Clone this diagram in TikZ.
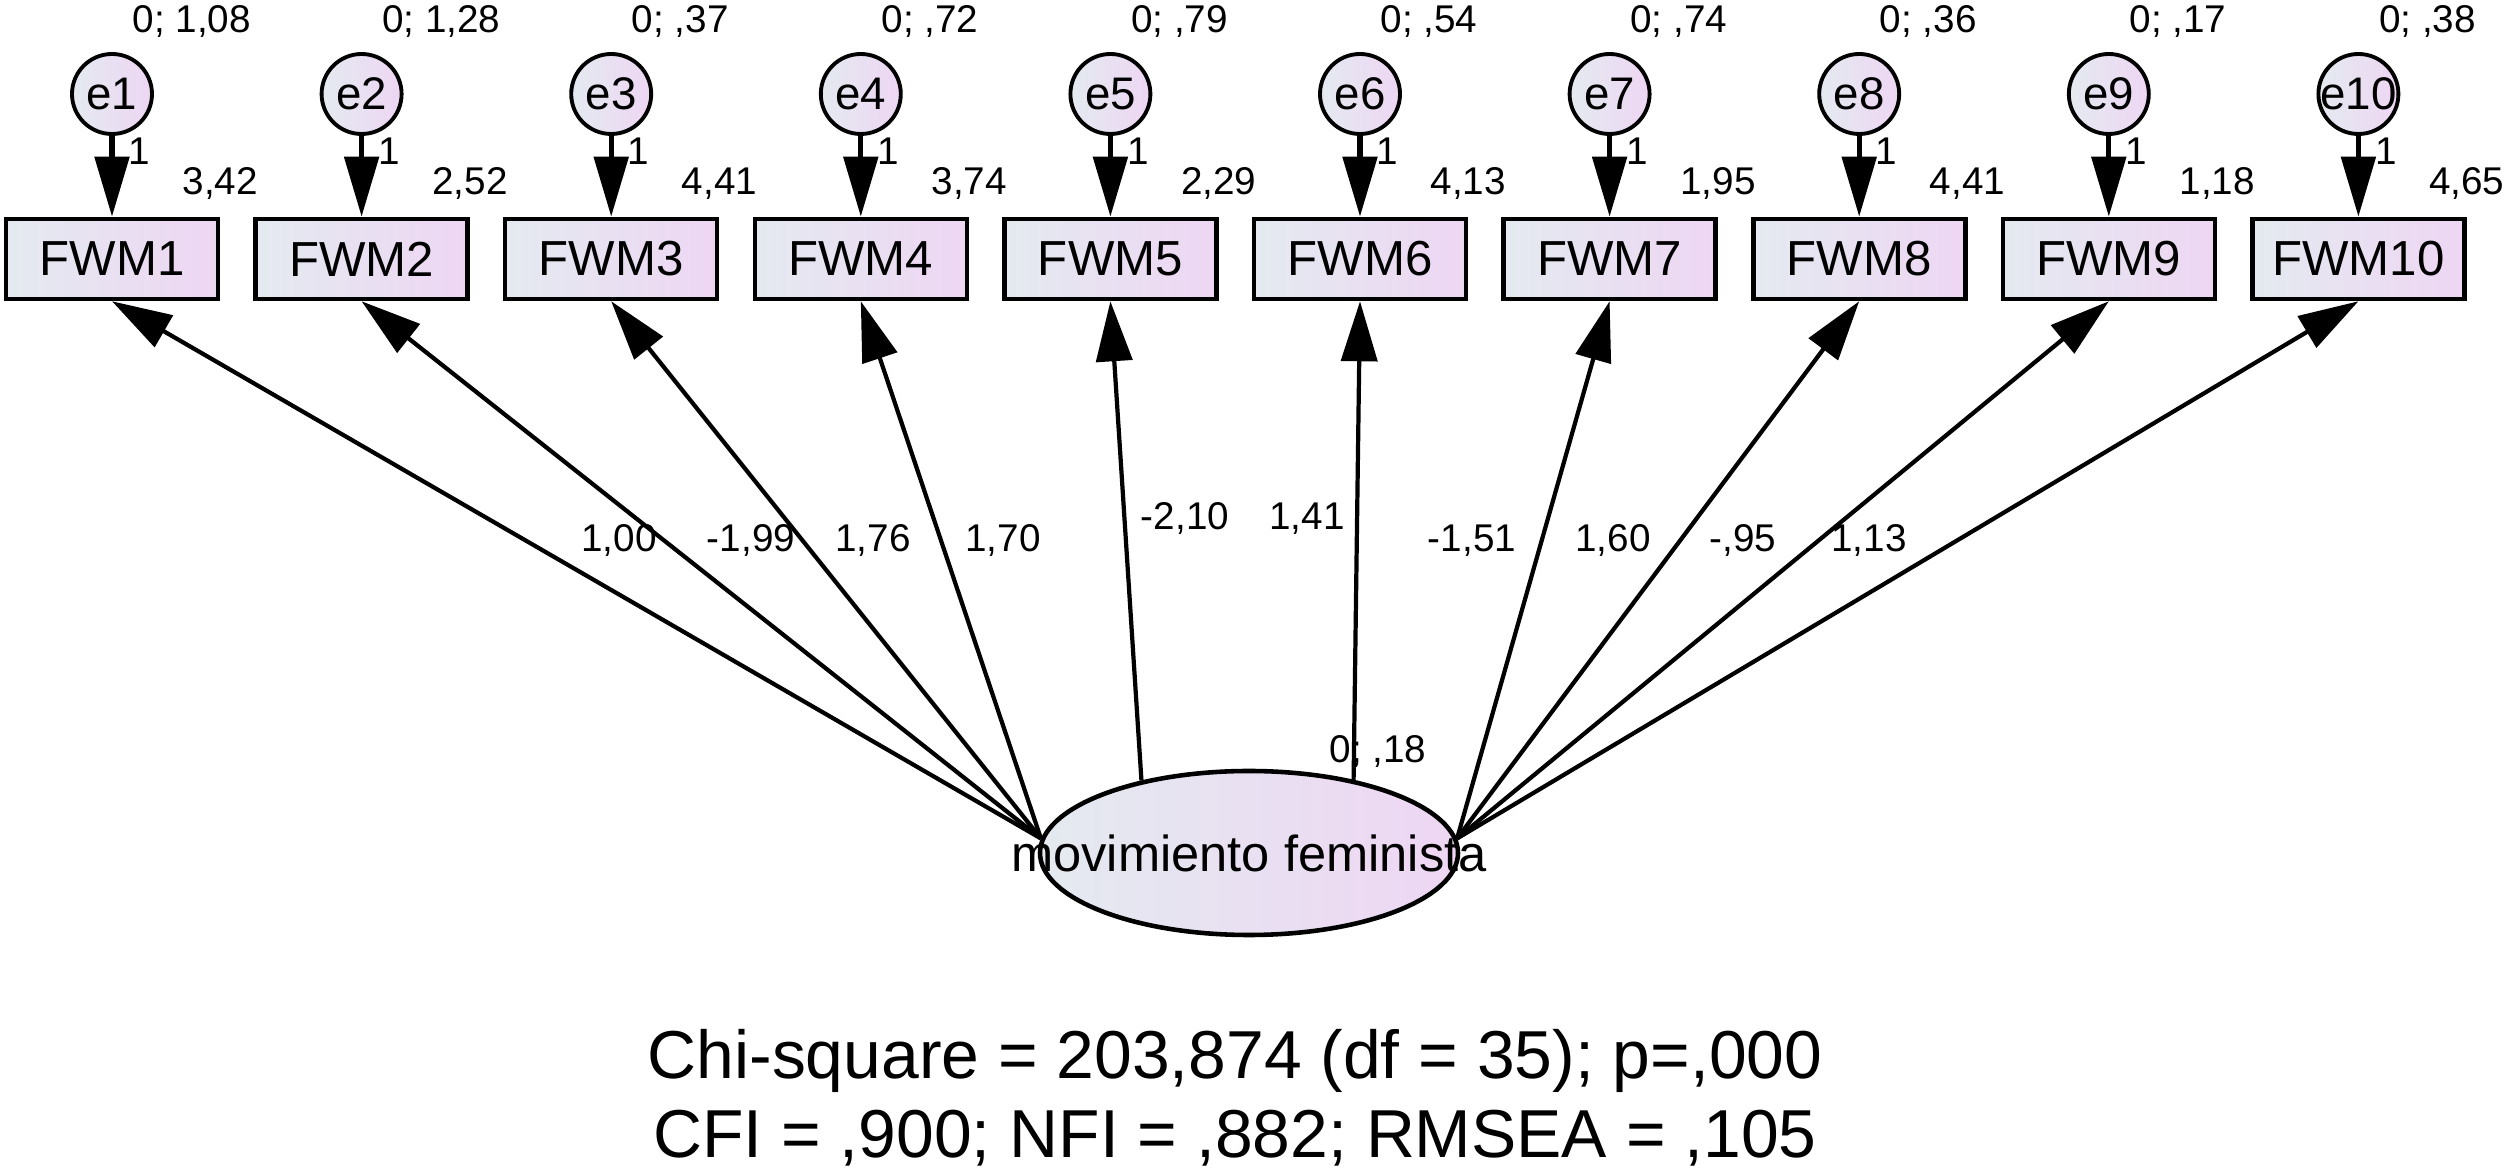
\documentclass[tikz,border=0pt]{standalone}
\usepackage{fontspec}
\setmainfont{Liberation Sans}
\usetikzlibrary{arrows.meta,shapes.geometric}
\definecolor{shadeL}{RGB}{228,234,240}
\definecolor{shadeR}{RGB}{238,214,243}
\tikzstyle{obs}=[draw, line width=1.3pt, left color=shadeL, right color=shadeR, minimum width=2.12cm, minimum height=0.8cm, inner sep=0pt, font=\fontsize{14pt}{16pt}\selectfont]
\tikzstyle{err}=[circle, draw, line width=1.1pt, left color=shadeL, right color=shadeR, minimum size=0.8cm, inner sep=-0.04cm, font=\fontsize{13pt}{15pt}\selectfont]
\tikzstyle{lat}=[ellipse, draw, line width=1.3pt, left color=shadeL, right color=shadeR, minimum width=4.18cm, minimum height=1.64cm, inner sep=0pt]
\tikzstyle{num}=[font=\fontsize{11pt}{13pt}\selectfont, inner sep=0pt]
\tikzstyle{loading}=[line width=1.2pt, -{Triangle[length=0.6cm, width=0.36cm]}]
\tikzstyle{fixed}=[line width=1.5pt, -{Triangle[length=0.6cm, width=0.34cm]}]
\tikzstyle{fitstat}=[font=\fontsize{19.3pt}{22pt}\selectfont, inner sep=0pt, anchor=base]

\begin{document}
\begin{tikzpicture}
	\useasboundingbox (0,0) rectangle (25.08,-11.73);
	\node[obs] (FWM1) at (1.12,-2.59) {FWM1};
	\node[obs] (FWM2) at (3.616,-2.59) {FWM2};
	\node[obs] (FWM3) at (6.112,-2.59) {FWM3};
	\node[obs] (FWM4) at (8.608,-2.59) {FWM4};
	\node[obs] (FWM5) at (11.104,-2.59) {FWM5};
	\node[obs] (FWM6) at (13.6,-2.59) {FWM6};
	\node[obs] (FWM7) at (16.096,-2.59) {FWM7};
	\node[obs] (FWM8) at (18.592,-2.59) {FWM8};
	\node[obs] (FWM9) at (21.088,-2.59) {FWM9};
	\node[obs] (FWM10) at (23.584,-2.59) {FWM10};
	\node[err] (e1) at (1.12,-0.94) {e1};
	\node[err] (e2) at (3.616,-0.94) {e2};
	\node[err] (e3) at (6.112,-0.94) {e3};
	\node[err] (e4) at (8.608,-0.94) {e4};
	\node[err] (e5) at (11.104,-0.94) {e5};
	\node[err] (e6) at (13.6,-0.94) {e6};
	\node[err] (e7) at (16.096,-0.94) {e7};
	\node[err] (e8) at (18.592,-0.94) {e8};
	\node[err] (e9) at (21.088,-0.94) {e9};
	\node[err] (e10) at (23.584,-0.94) {e10};
	\node[num, anchor=base west] (v1) at ([shift={(0.2,0.61)}] e1) {0; 1,08};
	\node[num, anchor=base west] (v2) at ([shift={(0.2,0.61)}] e2) {0; 1,28};
	\node[num, anchor=base west] (v3) at ([shift={(0.2,0.61)}] e3) {0; ,37};
	\node[num, anchor=base west] (v4) at ([shift={(0.2,0.61)}] e4) {0; ,72};
	\node[num, anchor=base west] (v5) at ([shift={(0.2,0.61)}] e5) {0; ,79};
	\node[num, anchor=base west] (v6) at ([shift={(0.2,0.61)}] e6) {0; ,54};
	\node[num, anchor=base west] (v7) at ([shift={(0.2,0.61)}] e7) {0; ,74};
	\node[num, anchor=base west] (v8) at ([shift={(0.2,0.61)}] e8) {0; ,36};
	\node[num, anchor=base west] (v9) at ([shift={(0.2,0.61)}] e9) {0; ,17};
	\node[num, anchor=base west] (v10) at ([shift={(0.2,0.61)}] e10) {0; ,38};
	\node[num, anchor=base west] (w1) at ([shift={(0.16,-0.71)}] e1) {1};
	\node[num, anchor=base west] (w2) at ([shift={(0.16,-0.71)}] e2) {1};
	\node[num, anchor=base west] (w3) at ([shift={(0.16,-0.71)}] e3) {1};
	\node[num, anchor=base west] (w4) at ([shift={(0.16,-0.71)}] e4) {1};
	\node[num, anchor=base west] (w5) at ([shift={(0.16,-0.71)}] e5) {1};
	\node[num, anchor=base west] (w6) at ([shift={(0.16,-0.71)}] e6) {1};
	\node[num, anchor=base west] (w7) at ([shift={(0.16,-0.71)}] e7) {1};
	\node[num, anchor=base west] (w8) at ([shift={(0.16,-0.71)}] e8) {1};
	\node[num, anchor=base west] (w9) at ([shift={(0.16,-0.71)}] e9) {1};
	\node[num, anchor=base west] (w10) at ([shift={(0.16,-0.71)}] e10) {1};
	\node[num, anchor=base west] (i1) at ([shift={(0.7,0.64)}] FWM1) {3,42};
	\node[num, anchor=base west] (i2) at ([shift={(0.7,0.64)}] FWM2) {2,52};
	\node[num, anchor=base west] (i3) at ([shift={(0.7,0.64)}] FWM3) {4,41};
	\node[num, anchor=base west] (i4) at ([shift={(0.7,0.64)}] FWM4) {3,74};
	\node[num, anchor=base west] (i5) at ([shift={(0.7,0.64)}] FWM5) {2,29};
	\node[num, anchor=base west] (i6) at ([shift={(0.7,0.64)}] FWM6) {4,13};
	\node[num, anchor=base west] (i7) at ([shift={(0.7,0.64)}] FWM7) {1,95};
	\node[num, anchor=base west] (i8) at ([shift={(0.7,0.64)}] FWM8) {4,41};
	\node[num, anchor=base west] (i9) at ([shift={(0.7,0.64)}] FWM9) {1,18};
	\node[num, anchor=base west] (i10) at ([shift={(0.7,0.64)}] FWM10) {4,65};
	\node[lat] (mf) at (12.49,-8.53) {};
	\node[font=\fontsize{14.4pt}{16pt}\selectfont, inner sep=0pt] (mflbl) at (mf) {movimiento feminista};
	\node[num, anchor=base west] (vmf) at (13.29,-7.63) {0; ,18};
	\node[num, anchor=base] (l1) at (6.19,-5.52) {1,00};
	\node[num, anchor=base] (l2) at (7.51,-5.52) {-1,99};
	\node[num, anchor=base] (l3) at (8.73,-5.52) {1,76};
	\node[num, anchor=base] (l4) at (10.03,-5.52) {1,70};
	\node[num, anchor=base] (l5) at (11.85,-5.30) {-2,10};
	\node[num, anchor=base] (l6) at (13.07,-5.30) {1,41};
	\node[num, anchor=base] (l7) at (14.72,-5.52) {-1,51};
	\node[num, anchor=base] (l8) at (16.13,-5.52) {1,60};
	\node[num, anchor=base] (l9) at (17.43,-5.52) {-,95};
	\node[num, anchor=base] (l10) at (18.69,-5.52) {1,13};
	\draw[fixed] (e1) -- (FWM1);
	\draw[fixed] (e2) -- (FWM2);
	\draw[fixed] (e3) -- (FWM3);
	\draw[fixed] (e4) -- (FWM4);
	\draw[fixed] (e5) -- (FWM5);
	\draw[fixed] (e6) -- (FWM6);
	\draw[fixed] (e7) -- (FWM7);
	\draw[fixed] (e8) -- (FWM8);
	\draw[fixed] (e9) -- (FWM9);
	\draw[fixed] (e10) -- (FWM10);
	\draw[loading] (mf.176) -- (FWM1.south);
	\draw[loading] (mf.176) -- (FWM2.south);
	\draw[loading] (mf.176) -- (FWM3.south);
	\draw[loading] (mf.176) -- (FWM4.south);
	\draw[loading] (mf.146) -- (FWM5.south);
	\draw[loading] (mf.35) -- (FWM6.south);
	\draw[loading] (mf.4) -- (FWM7.south);
	\draw[loading] (mf.4) -- (FWM8.south);
	\draw[loading] (mf.4) -- (FWM9.south);
	\draw[loading] (mf.4) -- (FWM10.south);
	\node[fitstat] (chi) at (12.35,-10.79) {Chi-square = 203,874 (df = 35); p=,000};
	\node[fitstat] (idx) at (12.35,-11.57) {CFI = ,900; NFI = ,882; RMSEA = ,105};
\end{tikzpicture}
\end{document}
